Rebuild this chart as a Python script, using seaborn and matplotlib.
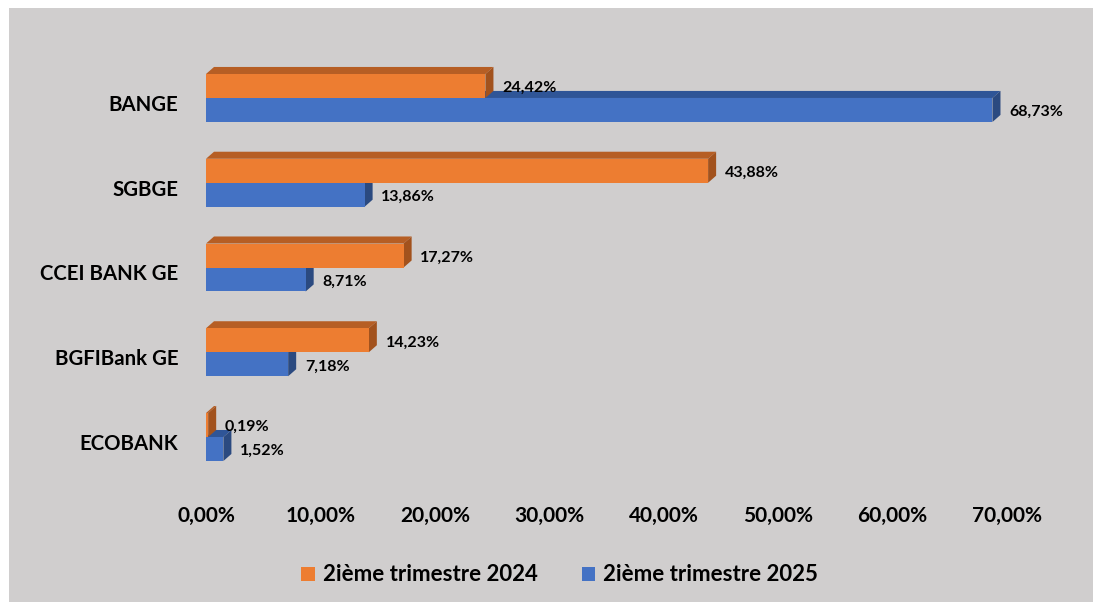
import pandas as pd
import seaborn as sns
import matplotlib.pyplot as plt
import matplotlib.transforms as mtransforms
from matplotlib.patches import Polygon, Rectangle
from matplotlib.ticker import FuncFormatter

# Données du graphique
banques = ['BANGE', 'SGBGE', 'CCEI BANK GE', 'BGFIBank GE', 'ECOBANK']
t2_2024 = [24.42, 43.88, 17.27, 14.23, 0.19]
t2_2025 = [68.73, 13.86, 8.71, 7.18, 1.52]
periodes = ['2ième trimestre 2024', '2ième trimestre 2025']
ticks = [0, 10, 20, 30, 40, 50, 60, 70]

orange = '#ed7d31'
bleu = '#4472c4'
fond = '#d0cece'
faces = {orange: ('#b65e24', '#a2521d'), bleu: ('#2f5597', '#2b4a80')}

df = pd.DataFrame({
    'banque': banques * 2,
    'valeur': t2_2024 + t2_2025,
    'periode': [periodes[0]] * len(banques) + [periodes[1]] * len(banques),
})

sns.set_theme(style='white')
plt.rcParams['font.family'] = ['Lato', 'DejaVu Sans']
plt.rcParams['font.weight'] = 'bold'
plt.rcParams['text.color'] = 'black'
plt.rcParams['xtick.color'] = 'black'
plt.rcParams['ytick.color'] = 'black'

fig = plt.figure(figsize=(10.93, 6.02), dpi=100)
fig.patch.set_facecolor('white')
fig.patches.append(Rectangle((9 / 1093, 0), 1 - 9 / 1093, 1 - 8 / 602,
                             transform=fig.transFigure, facecolor=fond,
                             edgecolor='none', zorder=-10))

ax = fig.add_axes([206 / 1093, 1 - 479.4 / 602, (1007 - 206) / 1093, (479.4 - 55.6) / 602])
ax.set_facecolor('none')
ax.set_zorder(5)

sns.barplot(data=df, y='banque', x='valeur', hue='periode', orient='h',
            palette=[orange, bleu], saturation=1, width=0.566, gap=0,
            legend=False, ax=ax)

ax.set_xlim(0, 70)
ax.set_ylim(4.5, -0.5)

# effet 3D : face du dessus et face de côté
dx = 0.70
dy = 0.083
for i, (cont, col) in enumerate(zip(ax.containers, [orange, bleu])):
    z = 3 if col == orange else 2
    for bar, v in zip(cont, [t2_2024, t2_2025][i]):
        bar.set_edgecolor('none')
        bar.set_zorder(z)
        x1 = bar.get_width()
        yt = bar.get_y()
        yb = yt + bar.get_height()
        dessus = Polygon([(0, yt), (x1, yt), (x1 + dx, yt - dy), (dx, yt - dy)],
                         closed=True, facecolor=faces[col][0], edgecolor='none',
                         zorder=z - 0.5, clip_on=False)
        cote = Polygon([(x1, yb), (x1, yt), (x1 + dx, yt - dy), (x1 + dx, yb - dy)],
                       closed=True, facecolor=faces[col][1], edgecolor='none',
                       zorder=z - 0.5, clip_on=False)
        ax.add_patch(dessus)
        ax.add_patch(cote)
        txt = f"{v:.2f}".replace('.', ',') + '%'
        ax.annotate(txt, (x1, (yt + yb) / 2), xytext=(12, -1.5),
                    textcoords='offset points', va='center', ha='left',
                    fontsize=11.5, fontweight='bold', color='black')

ax.xaxis.set_major_formatter(FuncFormatter(lambda v, p: f"{v:.2f}".replace('.', ',') + '%'))
ax.set_xticks(ticks)
ax.tick_params(axis='x', length=0, pad=19, labelsize=15)
ax.tick_params(axis='y', length=0, pad=20, labelsize=14.7)
decal = mtransforms.ScaledTranslation(0, -5 / 100, fig.dpi_scale_trans)
for lab in ax.get_yticklabels():
    lab.set_transform(lab.get_transform() + decal)
for lab in ax.get_xticklabels() + ax.get_yticklabels():
    lab.set_fontweight('bold')
ax.set_xlabel('')
ax.set_ylabel('')
for s in ax.spines.values():
    s.set_visible(False)

handles = [Rectangle((0, 0), 1, 1, facecolor=orange, edgecolor='none'),
           Rectangle((0, 0), 1, 1, facecolor=bleu, edgecolor='none')]
fig.legend(handles, periodes, loc='center', bbox_to_anchor=(0.512, 0.045), ncol=2,
           frameon=False, handlelength=0.6, handleheight=0.6, columnspacing=2.0,
           handletextpad=0.35, prop={'size': 16, 'weight': 'bold'})

fig.savefig('out.png', dpi=100, facecolor='white')
